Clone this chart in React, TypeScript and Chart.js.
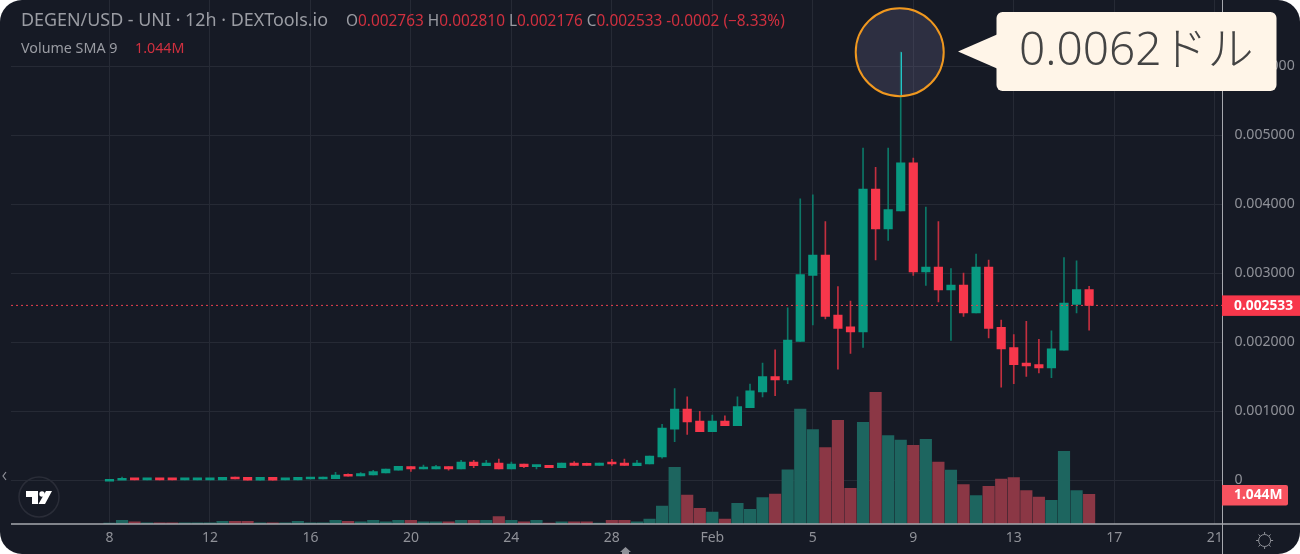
import React, { useEffect, useRef } from 'react';
import { Chart, registerables } from 'chart.js';

Chart.register(...registerables);

const opens = [0, 0.000001, 0.000029, 0.000005, 0.000029, 0.000029, 0.000005, 0.000005, 0.000005, 0.000006, 0.000048, 0.000043, 0.000002, 0.000043, 0.000005, 0.000006, 0.000019, 0.000019, 0.000024, 0.000077, 0.000063, 0.000077, 0.000106, 0.000145, 0.000198, 0.000164, 0.000164, 0.000198, 0.000164, 0.000265, 0.000212, 0.000251, 0.000164, 0.000236, 0.000198, 0.000217, 0.000183, 0.000251, 0.000236, 0.000217, 0.000251, 0.000251, 0.000212, 0.000237, 0.000338, 0.000739, 0.001033, 0.000859, 0.000705, 0.000859, 0.000792, 0.001052, 0.001279, 0.001501, 0.001454, 0.00201, 0.002966, 0.003261, 0.002391, 0.002222, 0.00215, 0.004217, 0.003642, 0.003903, 0.004599, 0.003019, 0.003087, 0.002758, 0.002826, 0.002425, 0.003087, 0.002217, 0.001923, 0.001696, 0.001676, 0.001628, 0.001884, 0.002546, 0.002763];
const closes = [0.00001, 0.00003, 0.000005, 0.000029, 0.000006, 0.000006, 0.000029, 0.000029, 0.000029, 0.000043, 0.000019, 0.000002, 0.000043, 0.000002, 0.000029, 0.000043, 0.000043, 0.000048, 0.000077, 0.000058, 0.000097, 0.000126, 0.000164, 0.000203, 0.000164, 0.000184, 0.000198, 0.000164, 0.000265, 0.000212, 0.000251, 0.000164, 0.000236, 0.000198, 0.000222, 0.000183, 0.000251, 0.000217, 0.000217, 0.000251, 0.000236, 0.000217, 0.000251, 0.000352, 0.000758, 0.001033, 0.000845, 0.000705, 0.000859, 0.000792, 0.001067, 0.001294, 0.001501, 0.001453, 0.002029, 0.00298, 0.003261, 0.002372, 0.002198, 0.00215, 0.004217, 0.003642, 0.003922, 0.004599, 0.003019, 0.003087, 0.002758, 0.002826, 0.002425, 0.003087, 0.002198, 0.001903, 0.001676, 0.001657, 0.001628, 0.001903, 0.002565, 0.002763, 0.002533];
const highs = [0.00001, 0.000048, 0.000029, 0.000029, 0.000029, 0.000029, 0.000029, 0.000029, 0.000029, 0.000043, 0.000048, 0.000043, 0.000043, 0.000043, 0.000029, 0.000043, 0.000043, 0.000048, 0.000116, 0.000092, 0.00011, 0.000145, 0.000164, 0.000203, 0.000198, 0.000222, 0.000217, 0.000198, 0.00029, 0.00029, 0.00029, 0.000309, 0.000265, 0.000236, 0.000222, 0.000217, 0.000251, 0.00027, 0.000251, 0.000251, 0.000304, 0.000309, 0.00029, 0.000352, 0.000811, 0.001327, 0.001207, 0.000999, 0.000946, 0.000932, 0.001207, 0.001395, 0.001699, 0.001889, 0.002497, 0.004077, 0.004135, 0.003748, 0.002807, 0.002594, 0.004811, 0.004531, 0.004811, 0.0062, 0.004666, 0.003956, 0.003748, 0.003067, 0.003, 0.003275, 0.003188, 0.002319, 0.002111, 0.002304, 0.002043, 0.002164, 0.003227, 0.003179, 0.00281];
const lows = [0, 0, 0.000005, 0.000005, 0.000006, 0.000006, 0.000005, 0.000005, 0.000005, 0.000006, 0.000019, 0.000002, 0.000002, 0.000002, 0.000005, 0.000006, 0.000019, 0.000019, 0.000024, 0.000058, 0.000063, 0.000077, 0.000106, 0.000145, 0.00013, 0.000164, 0.000164, 0.000145, 0.000164, 0.000183, 0.000212, 0.000164, 0.000164, 0.000183, 0.000164, 0.000183, 0.000183, 0.000217, 0.000217, 0.000217, 0.000217, 0.000217, 0.000212, 0.000237, 0.000319, 0.00056, 0.000666, 0.000705, 0.000705, 0.000792, 0.000792, 0.001052, 0.001207, 0.001227, 0.001401, 0.00201, 0.002251, 0.002338, 0.001609, 0.001836, 0.001923, 0.003193, 0.003473, 0.003903, 0.002966, 0.002821, 0.002584, 0.002024, 0.002372, 0.002425, 0.002063, 0.001348, 0.001401, 0.001503, 0.001556, 0.001488, 0.001884, 0.002425, 0.002176];
// volume in millions, 12h bars
const volumes = [0.035, 0.13, 0.08, 0.04, 0.04, 0.04, 0.04, 0.04, 0.04, 0.095, 0.095, 0.095, 0.04, 0.04, 0.04, 0.095, 0.04, 0.04, 0.13, 0.095, 0.08, 0.13, 0.08, 0.13, 0.13, 0.08, 0.08, 0.08, 0.13, 0.13, 0.13, 0.26, 0.13, 0.08, 0.13, 0.035, 0.08, 0.08, 0.08, 0.035, 0.13, 0.13, 0.08, 0.177, 0.636, 2.0, 1.02, 0.55, 0.424, 0.177, 0.73, 0.52, 0.93, 1.06, 1.91, 4.06, 3.33, 2.7, 3.66, 1.26, 3.59, 4.65, 3.12, 2.96, 2.78, 2.99, 2.19, 1.9, 1.39, 1.0, 1.33, 1.59, 1.64, 1.18, 0.95, 0.84, 2.57, 1.18, 1.05];

const priceTicks = [0, 0.001, 0.002, 0.003, 0.004, 0.005, 0.006];
const dayTicks = [0, 8, 16, 24, 32, 40, 48, 56, 64, 72, 80, 88];
const dayLabels = ['8', '12', '16', '20', '24', '28', 'Feb', '5', '9', '13', '17', '21'];

const lastClose = 0.002533;
const peakIndex = 63;
const peakPrice = 0.0062;
const priceMin = -0.000633;
const priceMax = 0.006956;
const indexMin = -7.84;
const indexMax = 88.62;

const GREEN = '#089981';
const RED = '#f7374b';
const GREY = '#8f9198';
const FONT = '"Noto Sans", sans-serif';

const isUp = (i: number) => closes[i] >= opens[i];

const overlayPlugin = {
  id: 'overlay',
  afterDraw(chart: any) {
    const { ctx, scales } = chart;
    const px = scales.x.getPixelForValue(peakIndex);
    const py = scales.y.getPixelForValue(peakPrice);
    const lastY = scales.y.getPixelForValue(lastClose);

    ctx.save();

    // axis lines
    ctx.strokeStyle = '#a6a8ae';
    ctx.lineWidth = 1;
    ctx.beginPath();
    ctx.moveTo(1222.5, 0);
    ctx.lineTo(1222.5, 554);
    ctx.stroke();
    ctx.lineWidth = 1.5;
    ctx.beginPath();
    ctx.moveTo(11, 524);
    ctx.lineTo(1300, 524);
    ctx.stroke();

    // last price tag
    ctx.fillStyle = '#f7374b';
    ctx.fillRect(1222, lastY - 10, 78, 20.5);
    ctx.fillStyle = '#ffffff';
    ctx.font = `bold 13.8px ${FONT}`;
    ctx.textBaseline = 'middle';
    ctx.textAlign = 'left';
    ctx.fillText('0.002533', 1234, lastY + 0.5);

    // volume sma tag
    ctx.fillStyle = '#f7525f';
    ctx.beginPath();
    ctx.roundRect(1222, 485, 66, 20.5, [0, 2, 2, 0]);
    ctx.fill();
    ctx.fillStyle = '#ffffff';
    ctx.fillText('1.044M', 1234, 495.5);

    // highlight around the peak wick
    ctx.beginPath();
    ctx.arc(px - 1, py, 44, 0, Math.PI * 2);
    ctx.fillStyle = 'rgba(114, 110, 153, 0.25)';
    ctx.fill();
    ctx.strokeStyle = '#f0981f';
    ctx.lineWidth = 2;
    ctx.stroke();
    ctx.strokeStyle = '#22c4c9';
    ctx.lineWidth = 1;
    ctx.beginPath();
    ctx.moveTo(Math.round(px) + 0.5, py);
    ctx.lineTo(Math.round(px) + 0.5, py + 43);
    ctx.stroke();

    // callout
    ctx.fillStyle = '#fff5e8';
    ctx.beginPath();
    ctx.roundRect(996.5, 12, 280, 79, 6);
    ctx.fill();
    ctx.beginPath();
    ctx.moveTo(958, 51.5);
    ctx.lineTo(997, 34.5);
    ctx.lineTo(997, 68.5);
    ctx.closePath();
    ctx.fill();
    ctx.fillStyle = '#444444';
    ctx.font = '300 46px "Noto Sans", "Noto Sans CJK JP", sans-serif';
    ctx.textBaseline = 'middle';
    ctx.fillText('0.0062ドル', 1019, 52);

    // logo badge
    ctx.strokeStyle = '#2a2d38';
    ctx.lineWidth = 1.5;
    ctx.beginPath();
    ctx.arc(39, 497, 20, 0, Math.PI * 2);
    ctx.stroke();
    ctx.fillStyle = '#ffffff';
    ctx.beginPath();
    ctx.moveTo(26, 491);
    ctx.lineTo(38, 491);
    ctx.lineTo(38, 504);
    ctx.lineTo(32, 504);
    ctx.lineTo(32, 497);
    ctx.lineTo(26, 497);
    ctx.closePath();
    ctx.moveTo(46, 491);
    ctx.lineTo(52, 491);
    ctx.lineTo(45, 504);
    ctx.lineTo(38.5, 504);
    ctx.closePath();
    ctx.fill();
    ctx.beginPath();
    ctx.arc(42, 494, 2.7, 0, Math.PI * 2);
    ctx.fill();

    // scroll chevron
    ctx.strokeStyle = GREY;
    ctx.lineWidth = 1.2;
    ctx.beginPath();
    ctx.moveTo(6, 472);
    ctx.lineTo(3, 476);
    ctx.lineTo(6, 480);
    ctx.stroke();

    // small marker under the time axis
    ctx.fillStyle = GREY;
    ctx.beginPath();
    ctx.moveTo(625.5, 547);
    ctx.lineTo(631, 552);
    ctx.lineTo(629, 552);
    ctx.lineTo(629, 554);
    ctx.lineTo(622, 554);
    ctx.lineTo(622, 552);
    ctx.lineTo(620, 552);
    ctx.closePath();
    ctx.fill();

    // settings icon
    ctx.strokeStyle = GREY;
    ctx.lineWidth = 1;
    ctx.beginPath();
    ctx.arc(1264.6, 540.5, 6, 0, Math.PI * 2);
    ctx.stroke();
    for (let a = 0; a < 8; a++) {
      const ang = (a * Math.PI) / 4;
      ctx.beginPath();
      ctx.moveTo(1264.6 + Math.cos(ang) * 6, 540.5 + Math.sin(ang) * 6);
      ctx.lineTo(1264.6 + Math.cos(ang) * 8.5, 540.5 + Math.sin(ang) * 8.5);
      ctx.stroke();
    }

    ctx.restore();
  },
};

const App: React.FC = () => {
  const chartRef = useRef<HTMLCanvasElement>(null);
  const chartInstance = useRef<Chart | null>(null);

  useEffect(() => {
    document.body.style.margin = '0';
    document.body.style.background = '#ffffff';
    if (!chartRef.current) return;

    chartInstance.current = new Chart(chartRef.current, {
      type: 'bar',
      data: {
        datasets: [
          {
            type: 'line',
            data: [
              { x: indexMin, y: lastClose },
              { x: indexMax, y: lastClose },
            ],
            borderColor: '#e8404f',
            borderWidth: 1,
            borderDash: [2, 3],
            pointRadius: 0,
            order: 0,
            yAxisID: 'y',
          },
          {
            data: opens.map((o, i) => ({ x: i, y: [o, closes[i]] })),
            backgroundColor: opens.map((_, i) => (isUp(i) ? GREEN : RED)),
            barThickness: 8.5,
            minBarLength: 2,
            grouped: false,
            order: 1,
            yAxisID: 'y',
          },
          {
            data: lows.map((l, i) => ({ x: i, y: [l, highs[i]] })),
            backgroundColor: lows.map((_, i) => (isUp(i) ? '#0c7767' : '#c22f3f')),
            barThickness: 1,
            grouped: false,
            order: 2,
            yAxisID: 'y',
          },
          {
            data: volumes.map((v, i) => ({ x: i, y: v })),
            backgroundColor: volumes.map((_, i) => (isUp(i) ? '#1d655f' : '#8b3745')),
            barThickness: 11.5,
            grouped: false,
            order: 3,
            yAxisID: 'vol',
          },
        ],
      } as any,
      options: {
        responsive: false,
        animation: false,
        layout: { autoPadding: false, padding: { left: 11 } },
        plugins: { legend: { display: false }, tooltip: { enabled: false } },
        scales: {
          x: {
            type: 'linear',
            offset: false,
            min: indexMin,
            max: indexMax,
            afterBuildTicks: (s: any) => {
              s.ticks = dayTicks.map((v) => ({ value: v }));
            },
            afterFit: (s: any) => {
              s.height = 30;
              s.paddingLeft = 0;
              s.paddingRight = 0;
            },
            border: { display: false },
            grid: { color: '#262a35', offset: false, drawTicks: false },
            ticks: {
              color: GREY,
              font: { family: FONT, size: 14 },
              autoSkip: false,
              maxRotation: 0,
              padding: 6,
              callback: (v: any) => dayLabels[dayTicks.indexOf(v)] ?? '',
            },
          },
          y: {
            position: 'right',
            min: priceMin,
            max: priceMax,
            afterBuildTicks: (s: any) => {
              s.ticks = priceTicks.map((v) => ({ value: v }));
            },
            afterFit: (s: any) => {
              s.width = 77.5;
              s.paddingTop = 0;
              s.paddingBottom = 0;
            },
            border: { display: false },
            grid: { color: '#262a35', drawTicks: false },
            ticks: {
              color: GREY,
              font: { family: FONT, size: 14.1 },
              padding: 12,
              callback: (v: any) => (v === 0 ? '0' : Number(v).toFixed(6)),
            },
          },
          vol: {
            display: false,
            position: 'right',
            min: 0,
            max: 18.5,
          },
        },
      } as any,
      plugins: [overlayPlugin],
    });

    return () => {
      chartInstance.current?.destroy();
      chartInstance.current = null;
    };
  }, []);

  const row: React.CSSProperties = { position: 'absolute', fontFamily: FONT, whiteSpace: 'pre', lineHeight: 1 };
  const red = '#d0303f';
  const grey = '#9a9ca3';

  return (
    <div style={{ position: 'relative', width: 1300, height: 554, background: '#161a25', borderRadius: 22, overflow: 'hidden' }}>
      <canvas ref={chartRef} width={1300} height={554} style={{ display: 'block' }} />
      <div style={{ ...row, left: 21, top: 11, fontSize: 17.9, color: grey }}>DEGEN/USD - UNI · 12h · DEXTools.io</div>
      <div style={{ ...row, left: 346, top: 13, fontSize: 15.4, color: red }}>
        <span style={{ color: grey }}>O</span>0.002763 <span style={{ color: grey }}>H</span>0.002810 <span style={{ color: grey }}>L</span>0.002176 <span style={{ color: grey }}>C</span>0.002533 -0.0002 (−8.33%)
      </div>
      <div style={{ ...row, left: 21, top: 41, fontSize: 14.3, color: grey }}>Volume SMA 9</div>
      <div style={{ ...row, left: 135, top: 41, fontSize: 14.3, color: red }}>1.044M</div>
    </div>
  );
};

export default App;
